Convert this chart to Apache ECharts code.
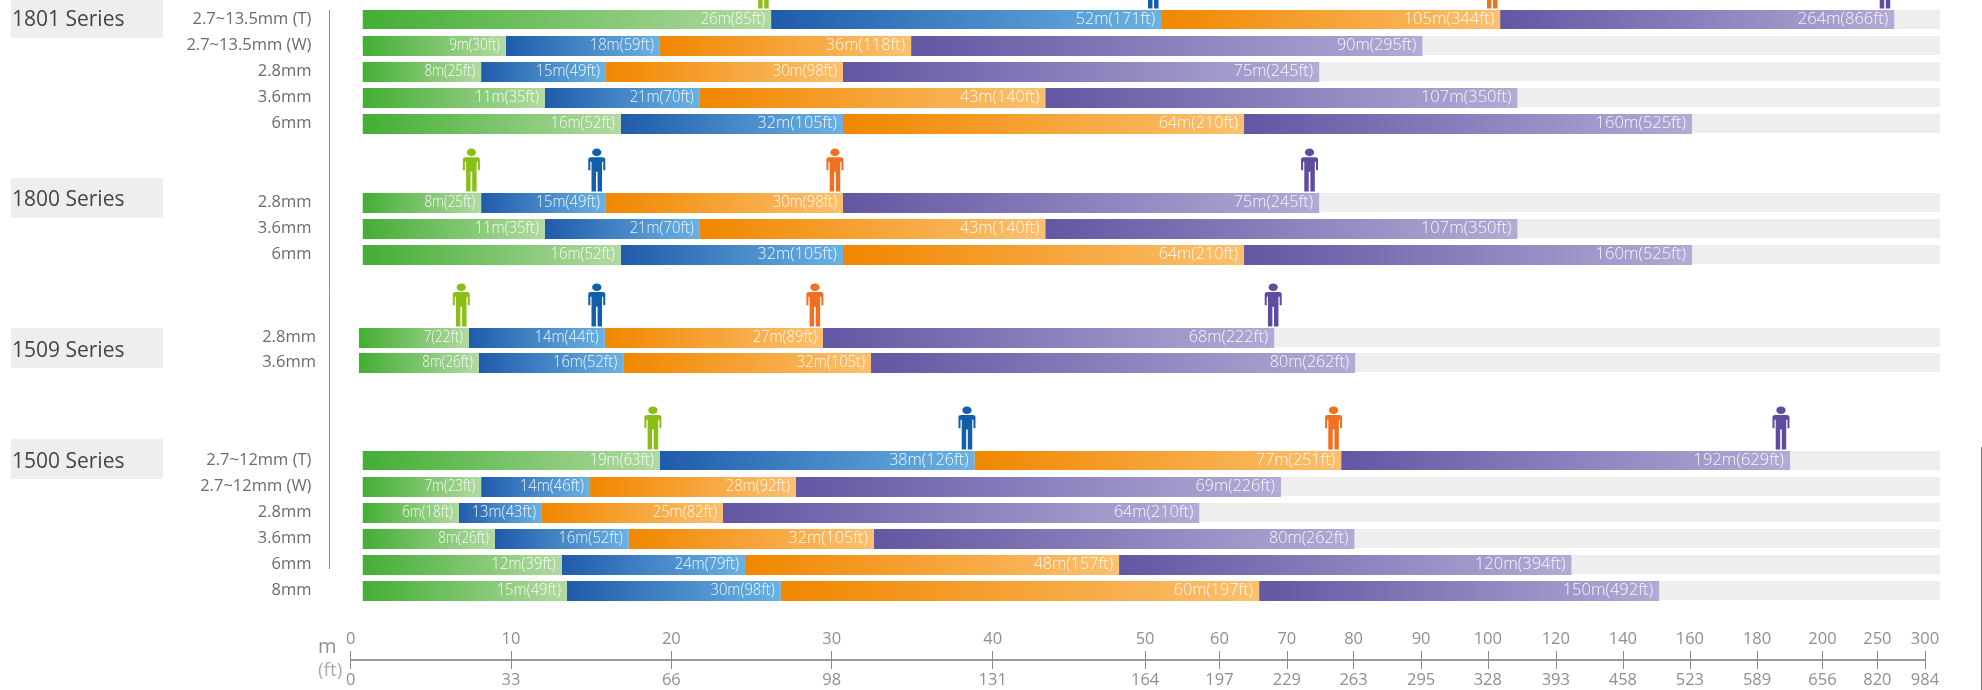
<!DOCTYPE html>
<html><head><meta charset="utf-8">
<style>html,body{margin:0;padding:0;background:#fff}#c{width:1982px;height:690px}</style>
<script src="https://cdn.jsdelivr.net/npm/echarts@6/dist/echarts.min.js"></script>
</head><body><div id="c"></div>
<script>
// Non-linear distance axis
const axisMetres = [0,10,20,30,40,50,60,70,80,90,100,120,140,160,180,200,250,300];
const axisFeet   = [0,33,66,98,131,164,197,229,263,295,328,393,458,523,589,656,820,984];
const axisScale  = [0,10,20,30,40.04,49.54,54.18,58.38,62.54,66.75,70.91,75.15,79.33,83.51,87.7,91.78,95.2,98.17];

// Rows
const rowNames = ['2.7~13.5mm (T)','2.7~13.5mm (W)','2.8mm','3.6mm','6mm','2.8mm','3.6mm','6mm','2.8mm','3.6mm','2.7~12mm (T)','2.7~12mm (W)','2.8mm','3.6mm','6mm','8mm'];
const rowSlot  = [0,1,2,3,4,7.04,8.04,9.04,12.23,13.19,16.96,17.96,18.96,19.96,20.96,21.96];
const groupNames = ['1801 Series','1800 Series','1509 Series','1500 Series'];

// Segment ends, metres read against the axis
const barStart  = [0.76,0.76,0.76,0.76,0.76,0.76,0.76,0.76,0.52,0.52,0.76,0.76,0.76,0.76,0.76,0.76];
const greenEnd  = [26.22,9.68,8.14,12.12,16.85,8.14,12.12,16.85,7.38,8.0,19.29,8.14,6.75,9.0,13.17,13.49];
const blueEnd   = [52.15,19.29,15.92,21.78,30.7,15.92,21.78,30.7,15.85,17.0,38.87,14.93,11.93,17.34,24.59,26.82];
const orangeEnd = [103.62,34.93,30.7,43.45,63.64,30.7,43.45,63.64,29.45,32.44,78.14,27.77,23.22,32.62,48.29,65.88];
const purpleEnd = [267.7,90.19,74.84,108.71,160.65,74.84,108.71,160.65,68.12,80.24,190.09,69.12,57.28,80.12,124.65,150.82];
const trackEnd = 315.7;

const greenLabels  = ['26m(85ft)','9m(30ft)','8m(25ft)','11m(35ft)','16m(52ft)','8m(25ft)','11m(35ft)','16m(52ft)','7(22ft)','8m(26ft)','19m(63ft)','7m(23ft)','6m(18ft)','8m(26ft)','12m(39ft)','15m(49ft)'];
const blueLabels   = ['52m(171ft)','18m(59ft)','15m(49ft)','21m(70ft)','32m(105ft)','15m(49ft)','21m(70ft)','32m(105ft)','14m(44ft)','16m(52ft)','38m(126ft)','14m(46ft)','13m(43ft)','16m(52ft)','24m(79ft)','30m(98ft)'];
const orangeLabels = ['105m(344ft)','36m(118ft)','30m(98ft)','43m(140ft)','64m(210ft)','30m(98ft)','43m(140ft)','64m(210ft)','27m(89ft)','32m(105t)','77m(251ft)','28m(92ft)','25m(82ft)','32m(105ft)','48m(157ft)','60m(197ft)'];
const purpleLabels = ['264m(866ft)','90m(295ft)','75m(245ft)','107m(350ft)','160m(525ft)','75m(245ft)','107m(350ft)','160m(525ft)','68m(222ft)','80m(262ft)','192m(629ft)','69m(226ft)','64m(210ft)','80m(262ft)','120m(394ft)','150m(492ft)'];

// Person markers: one per series block
const personRow    = [0,5,8,10];
const personGreen  = [25.74,7.53,6.9,18.85];
const personBlue   = [51.1,15.35,15.35,38.4];
const personOrange = [101.3,30.2,28.95,77.0];
const personPurple = [258,73.4,67.97,187.3];

function toScale(m){
  const n = axisMetres.length;
  let i = 0;
  while (i < n-2 && m > axisMetres[i+1]) i++;
  const t = (m-axisMetres[i])/(axisMetres[i+1]-axisMetres[i]);
  return axisScale[i] + t*(axisScale[i+1]-axisScale[i]);
}

const FONT = '"Open Sans"';
const chart = echarts.init(document.getElementById('c'), null, {renderer:'canvas'});

function grad(a,b){return new echarts.graphic.LinearGradient(0,0,1,0,[{offset:0,color:a},{offset:1,color:b}]);}
const palette = [['#43AE34','#B2DAA2'],['#1F5BAA','#6BB2E3'],['#F18700','#FBC06F'],['#6356A3','#B3AAD5']];
const squeeze = {7:0.8,8:0.79,9:0.87,10:0.95,11:0.97};

function segmentSeries(idx, starts, ends, labels){
  return {
    type:'custom', xAxisIndex:0, yAxisIndex:0, silent:true, z:3,
    encode:{x:[0,1],y:2},
    data: ends.map((e,i)=>[toScale(starts[i]),toScale(e),rowSlot[i]]),
    renderItem(params,api){
      const a = api.coord([api.value(0),api.value(2)]);
      const b = api.coord([api.value(1),api.value(2)]);
      const tall = /\(T\)/.test(rowNames[params.dataIndex]);
      const top = a[1]-10, h = tall?19:20;
      const text = labels[params.dataIndex];
      return {type:'group',children:[
        {type:'rect',shape:{x:a[0],y:top,width:b[0]-a[0],height:h},style:{fill:grad(palette[idx][0],palette[idx][1])}},
        {type:'text',x:b[0]-6,y:a[1]-0.5,scaleX:squeeze[text.length]||1,style:{text,fill:'rgba(255,255,255,0.92)',font:'300 17px '+FONT,align:'right',verticalAlign:'middle'}}
      ]};
    }
  };
}

const trackSeries = {
  type:'custom', xAxisIndex:0, yAxisIndex:0, silent:true, z:1,
  encode:{x:[0,1],y:2},
  data: barStart.map((s,i)=>[toScale(s),toScale(trackEnd),rowSlot[i]]),
  renderItem(params,api){
    const a = api.coord([api.value(0),api.value(2)]);
    const b = api.coord([api.value(1),api.value(2)]);
    const is1509 = params.dataIndex===8||params.dataIndex===9;
    const right = is1509?a[0]-43:a[0]-51.3;
    return {type:'group',children:[
      {type:'rect',shape:{x:a[0],y:a[1]-10,width:b[0]-a[0],height:19},style:{fill:'#EEEEEE'}},
      {type:'text',x:right,y:a[1]-0.5,style:{text:rowNames[params.dataIndex],fill:'#6b6b6b',font:'16.5px '+FONT,align:'right',verticalAlign:'middle'}}
    ]};
  }
};

const PERSON = 'path://M50 0a23 23 0 1 0 .01 0ZM22 52H78Q92 52 92 66V132H82V80H76V260H54V140H46V260H24V80H18V132H8V66Q8 52 22 52Z';
function personSeries(values,color){
  return {
    type:'scatter', xAxisIndex:0, yAxisIndex:0, silent:true, z:4,
    symbol:PERSON, symbolSize:[17,43], symbolOffset:[0,-33],
    itemStyle:{color,opacity:1},
    data: values.map((v,i)=>[toScale(v),rowSlot[personRow[i]]])
  };
}

const tickVals = axisMetres.map(toScale);
const metreByScale = new Map(tickVals.map((v,i)=>[v,axisMetres[i]]));
const feetByScale = new Map(tickVals.map((v,i)=>[v,axisFeet[i]]));
function baseX(gridIndex,position,lookup){
  return {
    type:'value', gridIndex, position, min:0, max:axisScale[axisScale.length-1],
    splitLine:{show:false},
    axisLine:{show:true,onZero:false,lineStyle:{color:'#959595',width:1.5}},
    axisTick:{show:true,customValues:tickVals,length:9,lineStyle:{color:'#8c8c8c',width:1}},
    axisLabel:{show:true,customValues:tickVals,hideOverlap:false,showMinLabel:true,showMaxLabel:true,
      margin:12,color:'#8f8f8f',fontFamily:FONT,fontSize:16.5,
      formatter:v=>String(lookup.get(v))}
  };
}

function box(top,h,text,textY){
  return [
    {type:'rect',left:11,top,shape:{width:152,height:h},style:{fill:'#EEEEEE'},z:0},
    {type:'text',left:12,top:textY-9,style:{text,fill:'#444',font:'21px '+FONT},z:1}
  ];
}

chart.setOption({
  animation:false,
  backgroundColor:'#fff',
  grid:[
    {left:350.6,top:20,width:1574.4,height:640,containLabel:false},
    {left:350.6,top:660,width:1574.4,height:0,containLabel:false}
  ],
  xAxis:[ baseX(0,'bottom',feetByScale), baseX(1,'top',metreByScale) ],
  yAxis:[
    {type:'value',gridIndex:0,min:0,max:640/26,inverse:true,show:false},
    {type:'value',gridIndex:1,min:0,max:1,show:false}
  ],
  series:[
    trackSeries,
    segmentSeries(3,orangeEnd,purpleEnd,purpleLabels),
    segmentSeries(2,blueEnd,orangeEnd,orangeLabels),
    segmentSeries(1,greenEnd,blueEnd,blueLabels),
    segmentSeries(0,barStart,greenEnd,greenLabels),
    personSeries(personGreen,'#8CBE1A'),
    personSeries(personBlue,'#115EAB'),
    personSeries(personOrange,'#F0701F'),
    personSeries(personPurple,'#5F4B9F')
  ],
  graphic:[
    ...box(0,38,groupNames[0],19),
    ...box(178,40,groupNames[1],199),
    ...box(328,40,groupNames[2],350),
    ...box(439,40,groupNames[3],461),
    {type:'line',shape:{x1:329.5,y1:10,x2:329.5,y2:569},style:{stroke:'#8a8a8a',lineWidth:1}},
    {type:'line',shape:{x1:1981.5,y1:447,x2:1981.5,y2:690},style:{stroke:'#777',lineWidth:1}},
    {type:'text',left:318,top:637,style:{text:'m',fill:'#8f8f8f',font:'20px '+FONT}},
    {type:'text',left:318,top:661,style:{text:'(ft)',fill:'#aaaaaa',font:'19px '+FONT}}
  ]
});
</script></body></html>
